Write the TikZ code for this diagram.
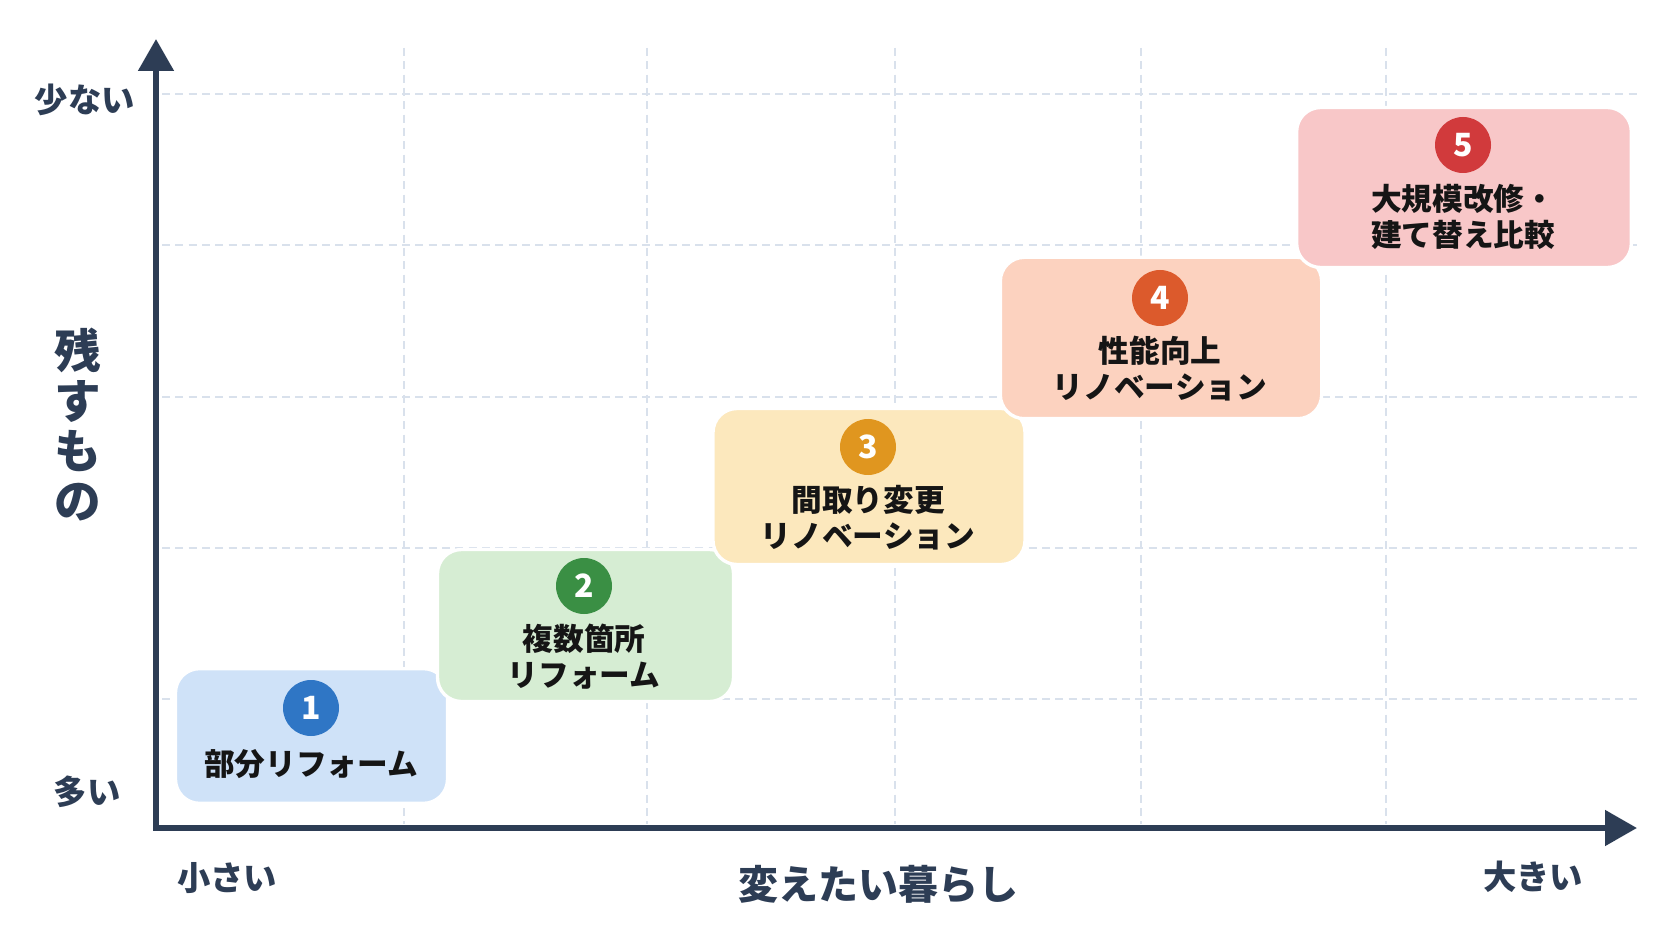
\documentclass[tikz,border=0pt]{standalone}
\usepackage{fontspec}
\setmainfont{Noto Sans CJK JP}
\usetikzlibrary{arrows.meta,positioning}

\definecolor{axisblue}{HTML}{2D3D55}
\definecolor{gridline}{HTML}{D9E1EC}
\definecolor{inkblack}{HTML}{151515}
\definecolor{fillone}{HTML}{CFE2F8}   \definecolor{dotone}{HTML}{2F76C5}
\definecolor{filltwo}{HTML}{D6EDD3}   \definecolor{dottwo}{HTML}{3A8F44}
\definecolor{fillthree}{HTML}{FCE8BD} \definecolor{dotthree}{HTML}{E0961F}
\definecolor{fillfour}{HTML}{FCD2BF}  \definecolor{dotfour}{HTML}{DC5A2C}
\definecolor{fillfive}{HTML}{F8C7C8}  \definecolor{dotfive}{HTML}{D13A3C}

\begin{document}
\begin{tikzpicture}[x=0.75pt, y=-0.75pt,
    every node/.style={inner sep=0pt},
    axis/.style={draw=axisblue, line width=4.5pt, line join=miter},
    gridrule/.style={draw=gridline, line width=1pt, dash pattern=on 6pt off 4pt},
    scalelabel/.style={text=axisblue, font=\fontsize{25}{28}\selectfont\bfseries},
    stagebox/.style={rectangle, rounded corners=18pt, draw=white, line width=2.5pt},
    badge/.style={circle, minimum size=42pt, text=white, font=\fontsize{24}{24}\selectfont\bfseries},
    stagetext/.style={text=inkblack, align=center, font=\fontsize{23}{27}\selectfont\bfseries}]
  \fill[white] (0,0) rectangle (1672,941);
  \useasboundingbox (0,0) rectangle (1672,941);
  % grid
  \foreach \gy in {94,245,397,548,699} \draw[gridrule] (162,\gy) -- (1640,\gy);
  \foreach \gx in {404,647,895,1141,1386} \draw[gridrule] (\gx,48) -- (\gx,824);
  % axes
  \coordinate (ytop) at (156,39);
  \coordinate (origin) at (156,828);
  \coordinate (xend) at (1637,828);
  \draw[axis, {Triangle[length=24pt,width=26pt]}-{Triangle[length=24pt,width=26pt]}] (ytop) -- (origin) -- (xend);
  \node (few) at (85,100) [scalelabel] {少ない};
  \node (many) at (87,792) [scalelabel] {多い};
  \node (keep) at (78,425) [text=axisblue, align=center, font=\fontsize{35}{37.5}\selectfont\bfseries] {残\\す\\も\\の};
  \node (small) at (227,878) [scalelabel] {小さい};
  \node (large) at (1533,877) [scalelabel] {大きい};
  \node (change) at (878,884) [text=axisblue, font=\fontsize{30}{32}\selectfont\bfseries] {変えたい暮らし};
  % stages
  \node (s1) at (311.5,736) [stagebox, fill=fillone, minimum width=204pt, minimum height=101pt] {};
  \node (b1) at (311,708) [badge, fill=dotone] {1};
  \node (t1) at (311,764) [stagetext] {部分リフォーム};
  \node (s2) at (585.5,625.5) [stagebox, fill=filltwo, minimum width=222pt, minimum height=114pt] {};
  \node (b2) at (584,586) [badge, fill=dottwo] {2};
  \node (t2) at (584,656.5) [stagetext] {複数箇所\\リフォーム};
  \node (s3) at (869,486.5) [stagebox, fill=fillthree, minimum width=234pt, minimum height=117pt] {};
  \node (b3) at (868,447) [badge, fill=dotthree] {3};
  \node (t3) at (868,518) [stagetext] {間取り変更\\リノベーション};
  \node (s4) at (1161,338) [stagebox, fill=fillfour, minimum width=241pt, minimum height=121pt] {};
  \node (b4) at (1160,298) [badge, fill=dotfour] {4};
  \node (t4) at (1160,368.5) [stagetext] {性能向上\\リノベーション};
  \node (s5) at (1464,187.5) [stagebox, fill=fillfive, minimum width=251pt, minimum height=120pt] {};
  \node (b5) at (1463,145) [badge, fill=dotfive] {5};
  \node (t5) at (1463,217) [stagetext] {大規模改修・\\建て替え比較};
\end{tikzpicture}
\end{document}
